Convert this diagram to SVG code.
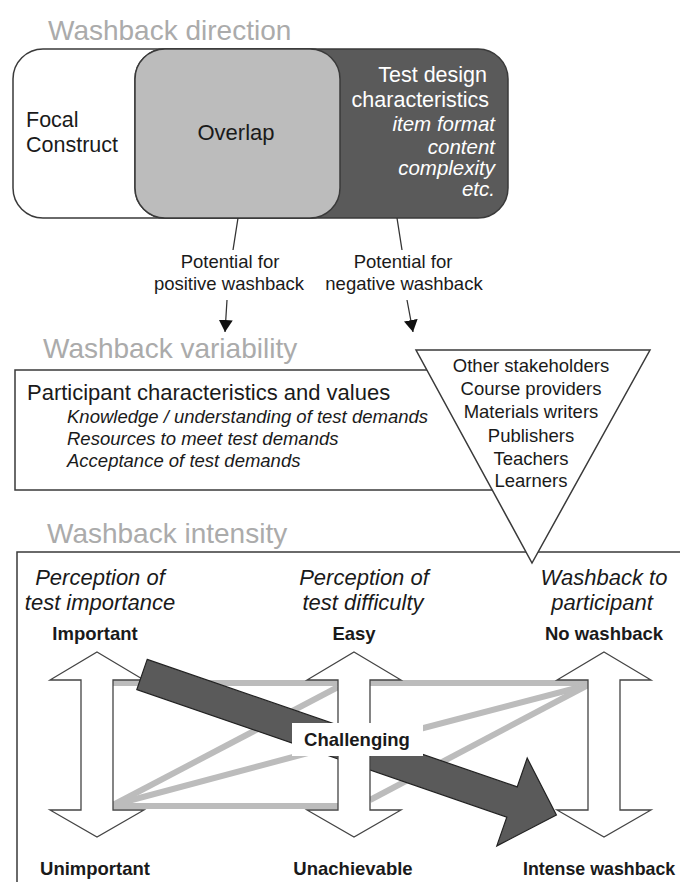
<svg xmlns="http://www.w3.org/2000/svg" width="680" height="882" viewBox="0 0 680 882">
<defs>
<marker id="ah" viewBox="0 0 12 14" refX="12" refY="7" markerWidth="12" markerHeight="14" markerUnits="userSpaceOnUse" orient="auto"><path d="M0,0 L12,7 L0,14 z" fill="#111"/></marker>
<style>
text{font-family:"Liberation Sans",Arial,Helvetica,sans-serif;fill:#1a1a1a}
.title{font-size:28px;fill:#ababab}
.m{text-anchor:middle}
.e{text-anchor:end}
.w{fill:#ffffff}
.it{font-style:italic}
.b{font-weight:bold}
.s185{font-size:18.5px}
.s205{font-size:20.5px}
.s215{font-size:21.5px}
.s22{font-size:22px}
.box{stroke:#3a3a3a;stroke-width:1.5}
.conn{stroke:#333;stroke-width:1.3;fill:none}
.band{stroke:#bcbcbc;stroke-width:6;fill:none}
.dbl{fill:#ffffff;stroke:#444;stroke-width:1.3}
</style>
</defs>
<rect width="680" height="882" fill="#ffffff"/>

<text class="title" x="48" y="40">Washback direction</text>
<text class="title" x="43" y="358">Washback variability</text>
<text class="title" x="47" y="543">Washback intensity</text>

<g id="focal-construct">
<rect class="box" x="13" y="49" width="327" height="169" rx="30" fill="#ffffff"/>
<text class="s215" x="26" y="127">Focal</text>
<text class="s215" x="26" y="152">Construct</text>
</g>
<g id="test-design">
<rect class="box" x="135" y="49" width="373" height="169" rx="30" fill="#5a5a5a"/>
<text class="w e s215" x="487" y="82">Test design</text>
<text class="w e s215" x="489" y="107">characteristics</text>
<text class="w e it s205" x="495" y="131">item format</text>
<text class="w e it s205" x="495" y="154">content</text>
<text class="w e it s205" x="495" y="175">complexity</text>
<text class="w e it s205" x="495" y="196">etc.</text>
</g>
<g id="overlap">
<rect class="box" x="135" y="49" width="205" height="169" rx="30" fill="#bcbcbc"/>
<text class="m s22" x="236" y="140">Overlap</text>
</g>

<g id="connectors">
<line class="conn" x1="238" y1="218" x2="233" y2="250"/>
<line class="conn" x1="227" y1="300" x2="225" y2="332" marker-end="url(#ah)"/>
<line class="conn" x1="397" y1="218" x2="402" y2="250"/>
<line class="conn" x1="407" y1="300" x2="413" y2="332" marker-end="url(#ah)"/>
</g>
<g id="positive-label">
<text class="m s185" x="230" y="268">Potential for</text>
<text class="m s185" x="229" y="290">positive washback</text>
</g>
<g id="negative-label">
<text class="m s185" x="403" y="268">Potential for</text>
<text class="m s185" x="404" y="290">negative washback</text>
</g>

<g id="participant-box">
<rect class="box" x="15" y="370" width="505" height="120" fill="#ffffff"/>
<text class="s22" x="27" y="400">Participant characteristics and values</text>
<text class="it s185" x="67" y="423">Knowledge / understanding of test demands</text>
<text class="it s185" x="67" y="445">Resources to meet test demands</text>
<text class="it s185" x="67" y="467">Acceptance of test demands</text>
</g>

<g id="intensity-box">
<rect class="box" x="17" y="552" width="700" height="400" fill="none"/>
</g>

<g id="stakeholders">
<polygon class="box" points="416,350 650,350 532,563" fill="#ffffff"/>
<text class="m s185" x="531" y="372">Other stakeholders</text>
<text class="m s185" x="531" y="395">Course providers</text>
<text class="m s185" x="531" y="418">Materials writers</text>
<text class="m s185" x="531" y="442">Publishers</text>
<text class="m s185" x="531" y="465">Teachers</text>
<text class="m s185" x="531" y="487">Learners</text>
</g>

<g id="headings">
<text class="m it s22" x="100" y="585">Perception of</text>
<text class="m it s22" x="100" y="610">test importance</text>
<text class="m it s22" x="364" y="585">Perception of</text>
<text class="m it s22" x="363" y="610">test difficulty</text>
<text class="m it s22" x="604" y="585">Washback to</text>
<text class="m it s22" x="602" y="610">participant</text>
</g>

<g id="bands">
<line class="band" x1="113" y1="683" x2="338" y2="683"/>
<line class="band" x1="113" y1="806" x2="338" y2="806"/>
<line class="band" x1="113" y1="805" x2="338" y2="687"/>
<line class="band" x1="113" y1="805" x2="338" y2="745"/>
<line class="band" x1="370" y1="683" x2="588" y2="683"/>
<line class="band" x1="588" y1="685" x2="370" y2="742"/>
<line class="band" x1="588" y1="685" x2="370" y2="800"/>
</g>

<g id="importance-arrow">
<polygon class="dbl" points="97,652 144,680 113,680 113,810 144,810 97,837 50,810 81,810 81,680 50,680"/>
<text class="m b s185" x="95" y="640">Important</text>
<text class="m b s185" x="95" y="875">Unimportant</text>
</g>

<g id="main-arrow">
<polygon points="147.2,659.4 517.2,786.9 527.2,758.1 556.4,815 496.8,845.9 506.8,817.1 136.8,689.6" fill="#5a5a5a" stroke="#222" stroke-width="1.2"/>
</g>

<g id="difficulty-arrow">
<polygon class="dbl" points="354,652 401,680 370,680 370,810 401,810 354,837 307,810 338,810 338,680 307,680"/>
<text class="m b s185" x="354" y="640">Easy</text>
<text class="m b s185" x="353" y="875">Unachievable</text>
</g>

<g id="washback-arrow">
<polygon class="dbl" points="604,652 651,680 620,680 620,810 651,810 604,837 557,810 588,810 588,680 557,680"/>
<text class="m b s185" x="604" y="640">No washback</text>
<text class="b" x="523" y="875" style="font-size:17.8px">Intense washback</text>
</g>

<g id="challenging">
<rect x="292" y="723" width="131" height="33" fill="#ffffff"/>
<text class="m b s185" x="357" y="746">Challenging</text>
</g>
</svg>
